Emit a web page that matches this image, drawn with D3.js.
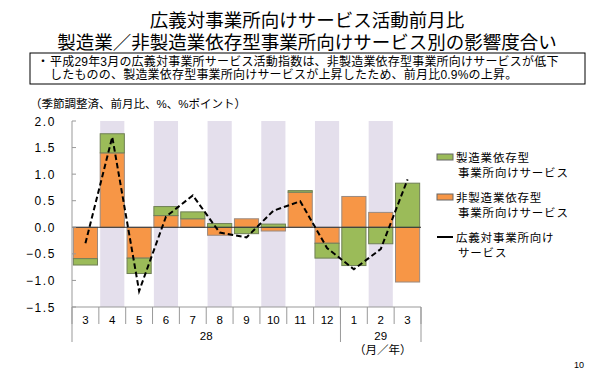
<!DOCTYPE html>
<html><head><meta charset="utf-8">
<script src="https://cdn.jsdelivr.net/npm/d3@7"></script>
<style>
html,body{margin:0;padding:0;background:#fff;}
svg{display:block;font-family:"Liberation Sans","Noto Sans CJK JP",sans-serif;}
</style></head>
<body>
<svg id="c" width="615" height="380"></svg>
<script>
const months = ["3","4","5","6","7","8","9","10","11","12","1","2","3"];
const years = [{label:"28", from:0, to:9},{label:"29", from:10, to:12}];
const manuf = [-0.12, 0.36, -0.29, 0.17, 0.13, 0.07, -0.12, 0.06, 0.03, -0.28, -0.72, -0.31, 0.83];
const nonManuf = [-0.59, 1.40, -0.58, 0.22, 0.16, -0.15, 0.16, -0.07, 0.66, -0.30, 0.58, 0.28, -1.03];
const total = [-0.30, 1.70, -1.20, 0.20, 0.60, -0.10, -0.19, 0.31, 0.49, -0.39, -0.79, -0.41, 0.90];
const yTicks = [2.0, 1.5, 1.0, 0.5, 0.0, -0.5, -1.0, -1.5];
const titleLines = ["広義対事業所向けサービス活動前月比","製造業／非製造業依存型事業所向けサービス別の影響度合い"];
const noteLines = ["平成29年3月の広義対事業所サービス活動指数は、非製造業依存型事業所向けサービスが低下","したものの、製造業依存型事業所向けサービスが上昇したため、前月比0.9%の上昇。"];
const legendItems = [
  {lines:["製造業依存型","事業所向けサービス"], type:"bar", color:"#9bbb59"},
  {lines:["非製造業依存型","事業所向けサービス"], type:"bar", color:"#f79646"},
  {lines:["広義対事業所向け","サービス"], type:"line", color:"#000"}
];

const svg = d3.select("#c");
const L = 72, R = 421, T = 121, B = 307;
const x = d3.scaleBand().domain(d3.range(months.length)).range([L, R]).paddingInner(0.1).paddingOuter(0.05);
const xb = d3.scaleBand().domain(d3.range(months.length)).range([L, R]);
const y = d3.scaleLinear().domain([-1.5, 2.0]).range([B, T]);

// title
svg.selectAll("text.title").data(titleLines).join("text").attr("class","title")
  .attr("x",307).attr("y",(d,i)=>27 + i*21.5)
  .attr("text-anchor","middle").attr("font-size",18.5).attr("fill","#000").text(d=>d);

// note box
svg.append("rect").attr("x",30).attr("y",53).attr("width",555).attr("height",31)
  .attr("fill","#fff").attr("stroke","#000").attr("stroke-width",1);
svg.append("text").attr("x",37).attr("y",65.5).attr("font-size",12).text("・");
svg.selectAll("text.note").data(noteLines).join("text").attr("class","note")
  .attr("x",50).attr("y",(d,i)=>65.5 + i*13.7).attr("font-size",12)
  .attr("letter-spacing",0.2).attr("fill","#000").text(d=>d);

svg.append("text").attr("x",30).attr("y",108).attr("font-size",11.5).text("（季節調整済、前月比、%、%ポイント）");

// stripes
svg.selectAll("rect.stripe").data(d3.range(months.length).filter(i=>i%2===1)).join("rect")
  .attr("x",i=>x(i)).attr("y",T).attr("width",x.bandwidth()).attr("height",B-T)
  .attr("fill","#e4dfec");

// bars: orange from zero, green stacked on if same sign
const segs = [];
months.forEach((m,i)=>{
  const o = nonManuf[i], g = manuf[i];
  segs.push({i, y0:0, y1:o, color:"#f79646", stroke:"#9a8a80"});
  const base = (Math.sign(g)===Math.sign(o)) ? o : 0;
  segs.push({i, y0:base, y1:base+g, color:"#9bbb59", stroke:"#6f7f55"});
});
svg.selectAll("rect.bar").data(segs).join("rect")
  .attr("x",d=>x(d.i)).attr("width",x.bandwidth())
  .attr("y",d=>y(Math.max(d.y0,d.y1))).attr("height",d=>Math.abs(y(d.y0)-y(d.y1)))
  .attr("fill",d=>d.color).attr("stroke",d=>d.stroke).attr("stroke-width",1);

// zero line
svg.append("line").attr("x1",L).attr("x2",R).attr("y1",y(0)).attr("y2",y(0))
  .attr("stroke","#333").attr("stroke-width",1);

// y axis
svg.append("line").attr("x1",L).attr("x2",L).attr("y1",T).attr("y2",B).attr("stroke","#999");
svg.selectAll("line.yt").data(yTicks).join("line")
  .attr("x1",L).attr("x2",L+4).attr("y1",d=>y(d)).attr("y2",d=>y(d)).attr("stroke","#999");
svg.selectAll("text.yl").data(yTicks).join("text")
  .attr("x",56).attr("y",d=>y(d)+4.5).attr("text-anchor","end").attr("font-size",12)
  .attr("letter-spacing",1.6).attr("fill","#000")
  .text(d=>(d<0?"−":"")+Math.abs(d).toFixed(1));

// x axis
svg.append("line").attr("x1",L).attr("x2",R).attr("y1",B).attr("y2",B).attr("stroke","#999");
svg.selectAll("line.xt").data(d3.range(months.length+1)).join("line")
  .attr("x1",i=>i<months.length?xb(i):R).attr("x2",i=>i<months.length?xb(i):R)
  .attr("y1",B).attr("y2",B+17).attr("stroke","#999");
svg.selectAll("text.xl").data(months).join("text")
  .attr("x",(d,i)=>xb(i)+xb.bandwidth()/2).attr("y",B+17).attr("text-anchor","middle")
  .attr("font-size",11.5).text(d=>d);
const yearEdges = [xb(years[0].from), xb(years[1].from), R];
svg.selectAll("line.yr").data(yearEdges).join("line")
  .attr("x1",d=>d).attr("x2",d=>d).attr("y1",B).attr("y2",B+35).attr("stroke","#999");
svg.selectAll("text.yrl").data(years).join("text")
  .attr("x",d=>(xb(d.from)+xb(d.to)+xb.bandwidth())/2).attr("y",B+33)
  .attr("text-anchor","middle").attr("font-size",11.5).text(d=>d.label);
svg.append("text").attr("x",(xb(years[1].from)+R)/2+2).attr("y",B+47)
  .attr("text-anchor","middle").attr("font-size",11.5).text("（月／年）");

// line
const line = d3.line().x((d,i)=>xb(i)+xb.bandwidth()/2).y(d=>y(d));
svg.append("path").attr("d",line(total)).attr("fill","none").attr("stroke","#000")
  .attr("stroke-width",2).attr("stroke-dasharray","5.5,3");

// legend
const lg = svg.append("g");
legendItems.forEach((it,k)=>{
  const yy = 157 + k*40;
  if(it.type==="bar"){
    lg.append("rect").attr("x",437).attr("y",yy-3).attr("width",16).attr("height",6)
      .attr("fill",it.color).attr("stroke","#666").attr("stroke-width",1);
  } else {
    lg.append("line").attr("x1",437).attr("x2",453).attr("y1",yy).attr("y2",yy)
      .attr("stroke","#000").attr("stroke-width",2);
  }
  it.lines.forEach((s,j)=>{
    lg.append("text").attr("x",j===0?456:458).attr("y",yy+4.5+j*15.5)
      .attr("font-size",11.5).attr("letter-spacing",0.8).text(s);
  });
});

svg.append("text").attr("x",579).attr("y",368).attr("text-anchor","middle").attr("font-size",9).text("10");
</script>
</body></html>
